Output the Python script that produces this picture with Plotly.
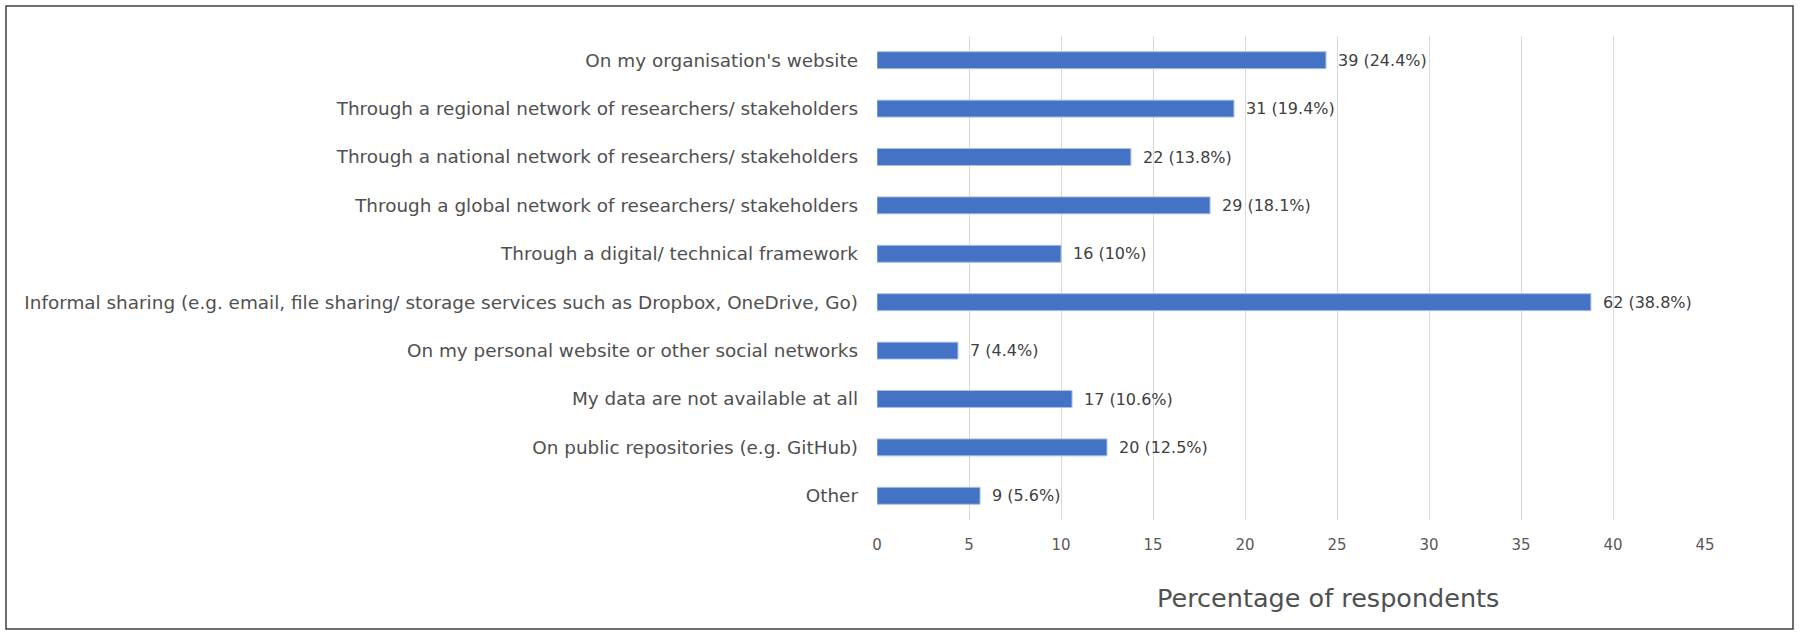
import plotly.graph_objects as go

categories = [
    "On my organisation's website",
    "Through a regional network of researchers/ stakeholders",
    "Through a national network of researchers/ stakeholders",
    "Through a global network of researchers/ stakeholders",
    "Through a digital/ technical framework",
    "Informal sharing (e.g. email, file sharing/ storage services such as Dropbox, OneDrive, Go)",
    "On my personal website or other social networks",
    "My data are not available at all",
    "On public repositories (e.g. GitHub)",
    "Other",
]
counts = [39, 31, 22, 29, 16, 62, 7, 17, 20, 9]
percentages = [24.4, 19.4, 13.8, 18.1, 10, 38.8, 4.4, 10.6, 12.5, 5.6]
x_ticks = [0, 5, 10, 15, 20, 25, 30, 35, 40, 45]

labels = [f"{c} ({p:g}%)" for c, p in zip(counts, percentages)]

FONT = "DejaVu Sans"
W, H = 1800, 634
L, R, T, B = 877, 95, 36, 114
pw, ph = W - L - R, H - T - B

fig = go.Figure(go.Bar(
    x=percentages, y=categories, orientation="h",
    marker=dict(color="#4472C4", line=dict(width=1, color="#A9BEE6")),
    width=0.35,
))

annotations = [dict(x=p, y=c, xref="x", yref="y", text=t, showarrow=False,
                    xanchor="left", yanchor="middle", xshift=10,
                    font=dict(family=FONT, size=16, color="#404040"))
               for p, c, t in zip(percentages, categories, labels)]
annotations.append(dict(text="Percentage of respondents", xref="paper", yref="paper",
                        x=(1328 - L) / pw, y=0, xanchor="center", yanchor="middle",
                        yshift=-78, showarrow=False,
                        font=dict(family=FONT, size=25.5, color="#505050")))

fig.update_layout(
    width=W, height=H,
    margin=dict(l=L, r=R, t=T, b=B),
    plot_bgcolor="white", paper_bgcolor="white",
    showlegend=False,
    font=dict(family=FONT, color="#595959"),
    xaxis=dict(range=[0, 45], tickvals=x_ticks, showgrid=True, gridcolor="#D9D9D9",
               gridwidth=1, zeroline=False, showline=False, ticks="",
               tickfont=dict(family=FONT, size=15, color="#595959"), ticklabelstandoff=14),
    yaxis=dict(categoryorder="array", categoryarray=categories[::-1], showgrid=False,
               ticks="", ticklabelstandoff=18,
               tickfont=dict(family=FONT, size=18.4, color="#505050")),
    annotations=annotations,
    shapes=[dict(type="rect", xref="paper", yref="paper",
                 x0=(6 - L) / pw, x1=(1793 - L) / pw,
                 y0=(H - B - 629) / ph, y1=(H - B - 6) / ph,
                 line=dict(color="#404040", width=1.5), fillcolor="rgba(0,0,0,0)")],
)

fig.write_html("out.html", config={"displayModeBar": False},
               post_script="document.body.style.margin='0';document.body.style.overflow='hidden';")
